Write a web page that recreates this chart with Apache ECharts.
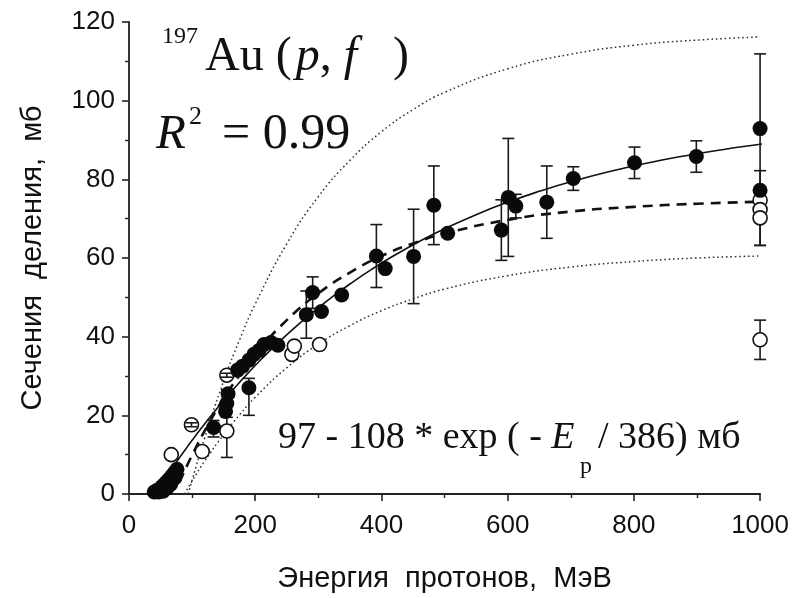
<!DOCTYPE html>
<html>
<head>
<meta charset="utf-8">
<script src="https://cdn.jsdelivr.net/npm/echarts@6/dist/echarts.min.js"></script>
<style>
  html, body { margin: 0; padding: 0; background: #fff; }
  #chart { width: 792px; height: 598px; }
</style>
</head>
<body>
<div id="chart"></div>
<script>
// 197Au(p,f): fission cross-section vs proton energy

// Filled points (MeV, mb) with lower / upper error
const filledEnergy = [40, 44, 47, 50, 52, 54, 55, 58, 60, 61, 64, 66, 67, 70, 72, 73, 76,
  134, 153, 155, 157,
  172, 180, 190, 190, 198, 206, 214, 225, 236,
  281, 291, 305, 337,
  392, 406, 451, 483, 505,
  590, 601, 613, 662, 704, 801, 899, 1000, 1000];
const filledXS = [0.5, 0.9, 0.5, 1.3, 1.8, 0.7, 2.3, 2.8, 1.5, 3.3, 3.8, 2.5, 4.4, 5.0, 4.0, 5.6, 6.3,
  16.9, 21, 23, 25.5,
  31.5, 32.5, 27, 34, 35.5, 36.5, 38, 38.5, 37.8,
  45.6, 51.2, 46.4, 50.6,
  60.5, 57.3, 60.4, 73.4, 66.3,
  67.1, 75.4, 73.2, 74.2, 80.2, 84.2, 85.8, 92.9, 77.2];
const filledErrLow = [0, 0, 0, 0, 0, 0, 0, 0, 0, 0, 0, 0, 0, 0, 0, 0, 0,
  2.4, 0, 3.5, 0,
  0, 0, 7, 0, 0, 0, 0, 0, 0,
  6, 4, 0, 0,
  8, 0, 12, 10, 1,
  7.7, 15, 3, 9.2, 3, 4, 4, 19, 14];
const filledErrHigh = [0, 0, 0, 0, 0, 0, 0, 0, 0, 0, 0, 0, 0, 0, 0, 0, 0,
  1.8, 0, 3.5, 0,
  0, 0, 2.4, 0, 0, 0, 0, 0, 0,
  6, 4, 0, 0,
  8, 0, 12, 10, 1,
  7.7, 15, 3, 9.2, 3, 4, 4, 19, 5];

// Open points (MeV, mb) with errors
const openEnergy = [67, 99, 116, 155, 155, 258, 262, 302, 1000, 1000, 1000, 1000];
const openXS = [10, 17.6, 10.8, 30.2, 16, 35.5, 37.6, 38, 74.7, 72.3, 70.2, 39.2];
const openErrLow = [0, 0.5, 0, 0.5, 6.7, 0, 0, 0, 0, 0, 7, 5];
const openErrHigh = [0, 0.5, 0, 0.5, 6.7, 0, 0, 0, 0, 0, 7, 5];

// Fit curve parameters: 97 - 108 * exp(-E / 386) mb
const fitA = 97, fitB = 108, fitTau = 386;
const fitEnergy = [41, 45, 50, 60, 70, 80, 90, 100, 115, 130, 150, 170, 190, 210, 235, 260,
  290, 320, 350, 385, 420, 460, 500, 550, 600, 650, 700, 760, 820, 880, 940, 1000, 1008];

// Dashed curve
const dashedEnergy = [80, 100, 125, 150, 175, 200, 250, 300, 350, 400, 450, 500, 600, 700, 800, 900, 1000];
const dashedXS = [3.0, 9.9, 17.5, 24.3, 30.2, 35.5, 44.2, 51.0, 56.3, 60.5, 63.7, 66.2, 69.7, 71.8, 73.0, 73.8, 74.3];

// Dotted band, upper and lower
const upperEnergy = [94, 100, 120, 150, 175, 200, 250, 300, 350, 400, 450, 500, 600, 700, 800, 900, 1000];
const upperXS = [0, 3.5, 14.3, 28.7, 39.1, 48.3, 63.6, 75.6, 84.8, 92.1, 97.7, 102.1, 108.1, 111.8, 114.1, 115.4, 116.2];
const lowerEnergy = [88, 100, 120, 150, 175, 200, 250, 300, 350, 400, 450, 500, 600, 700, 800, 900, 1000];
const lowerXS = [0, 3.3, 8.4, 15.1, 20.1, 24.6, 32.1, 38.1, 42.8, 46.6, 49.6, 52.1, 55.5, 57.7, 59.1, 60.0, 60.5];

// Axis ranges / ticks
const xMin = 0, xMax = 1000, xStep = 200;
const yMin = 0, yMax = 120, yStep = 20;

const INK = '#111';
const SERIF = '"Liberation Serif", "Times New Roman", serif';
const SANS = '"Liberation Sans", Arial, sans-serif';

const pairs = (xs, ys) => xs.map((x, i) => [x, ys[i]]);
const fitXS = fitEnergy.map(e => fitA - fitB * Math.exp(-e / fitTau));

function barRows(xs, ys, lo, hi) {
  return xs.map((x, i) => [x, ys[i] - lo[i], ys[i] + hi[i], lo[i] + hi[i]])
           .filter(r => r[3] > 0);
}
const allBars = barRows(filledEnergy, filledXS, filledErrLow, filledErrHigh)
  .concat(barRows(openEnergy, openXS, openErrLow, openErrHigh));
const longBars = allBars.filter(r => r[3] >= 2);
const shortBars = allBars.filter(r => r[3] < 2);

function errorBars(rows, z) {
  return {
    type: 'custom',
    z: z,
    silent: true,
    encode: { x: 0, y: [1, 2] },
    data: rows,
    renderItem(params, api) {
      const x = api.value(0);
      const a = api.coord([x, api.value(1)]);
      const b = api.coord([x, api.value(2)]);
      const hw = 6;
      const st = { stroke: '#1a1a1a', lineWidth: 1.6 };
      return {
        type: 'group',
        children: [
          { type: 'line', shape: { x1: a[0], y1: a[1], x2: b[0], y2: b[1] }, style: st },
          { type: 'line', shape: { x1: a[0] - hw, y1: a[1], x2: a[0] + hw, y2: a[1] }, style: st },
          { type: 'line', shape: { x1: b[0] - hw, y1: b[1], x2: b[0] + hw, y2: b[1] }, style: st }
        ]
      };
    }
  };
}

const chart = echarts.init(document.getElementById('chart'), null, { renderer: 'canvas' });

chart.setOption({
  animation: false,
  backgroundColor: '#fff',
  grid: { left: 129, right: 31, top: 22, bottom: 103 },
  xAxis: {
    type: 'value', min: xMin, max: xMax, interval: xStep,
    name: 'Энергия  протонов,  МэВ',
    nameLocation: 'middle', nameGap: 70,
    nameTextStyle: { fontFamily: SANS, fontSize: 29, color: INK },
    axisLine: { show: true, lineStyle: { color: '#222', width: 1.8 } },
    axisTick: { show: true, inside: false, length: 7, lineStyle: { color: '#222', width: 1.6 } },
    minorTick: { show: true, splitNumber: 2, length: 4, lineStyle: { color: '#222', width: 1.4 } },
    axisLabel: { fontFamily: SANS, fontSize: 26, color: INK, margin: 19, formatter: v => String(v) },
    splitLine: { show: false }
  },
  yAxis: {
    type: 'value', min: yMin, max: yMax, interval: yStep,
    name: 'Сечения  деления,  мб',
    nameLocation: 'middle', nameGap: 82, nameRotate: 90,
    nameTextStyle: { fontFamily: SANS, fontSize: 29, color: INK },
    axisLine: { show: true, lineStyle: { color: '#222', width: 1.8 } },
    axisTick: { show: true, inside: false, length: 7, lineStyle: { color: '#222', width: 1.6 } },
    minorTick: { show: true, splitNumber: 2, length: 4, lineStyle: { color: '#222', width: 1.4 } },
    axisLabel: { fontFamily: SANS, fontSize: 26, color: INK, margin: 14, formatter: v => String(v) },
    splitLine: { show: false }
  },
  series: [
    {
      type: 'line', data: pairs(upperEnergy, upperXS), smooth: true, symbol: 'none', z: 1,
      lineStyle: { color: '#333', width: 1.5, type: [1.6, 2.8] }
    },
    {
      type: 'line', data: pairs(lowerEnergy, lowerXS), smooth: true, symbol: 'none', z: 1,
      lineStyle: { color: '#333', width: 1.5, type: [1.6, 2.8] }
    },
    {
      type: 'line', data: pairs(dashedEnergy, dashedXS), smooth: true, symbol: 'none', z: 1,
      lineStyle: { color: '#111', width: 2.6, type: [10, 7] }
    },
    {
      type: 'line', data: pairs(fitEnergy, fitXS), smooth: true, symbol: 'none', z: 1,
      lineStyle: { color: '#111', width: 1.6, type: 'solid' }
    },
    errorBars(longBars, 2),
    {
      type: 'scatter', data: pairs(openEnergy, openXS), symbol: 'circle', symbolSize: 14, z: 3,
      itemStyle: { color: '#fff', borderColor: '#111', borderWidth: 1.6, opacity: 1 }
    },
    {
      type: 'scatter', data: pairs(filledEnergy, filledXS), symbol: 'circle', symbolSize: 15, z: 4,
      itemStyle: { color: '#0a0a0a', opacity: 1 }
    },
    errorBars(shortBars, 5)
  ],
  graphic: [
    {
      type: 'text', left: 162, top: 25, z: 10,
      style: { text: '197', font: '24px ' + SERIF, fill: INK }
    },
    {
      type: 'text', left: 205, top: 33, z: 10,
      style: {
        text: '{n|Au (\u200A}{i|p}{n|, }{i|f}{n|   )}',
        rich: {
          n: { font: '48px ' + SERIF, fill: INK },
          i: { font: 'italic 48px ' + SERIF, fill: INK }
        }
      }
    },
    {
      type: 'text', left: 156, top: 111, z: 10,
      style: { text: 'R', font: 'italic 49px ' + SERIF, fill: INK }
    },
    {
      type: 'text', left: 189, top: 104, z: 10,
      style: { text: '2', font: '26px ' + SERIF, fill: INK }
    },
    {
      type: 'text', left: 222, top: 110, z: 10,
      style: { text: '= 0.99', font: '50px ' + SERIF, fill: INK }
    },
    {
      type: 'text', left: 278, top: 419, z: 10,
      style: {
        text: '{n|97 - 108 * exp ( - }{i|E}',
        rich: {
          n: { font: '38px ' + SERIF, fill: INK },
          i: { font: 'italic 38px ' + SERIF, fill: INK }
        }
      }
    },
    {
      type: 'text', left: 580, top: 455, z: 10,
      style: { text: 'p', font: '24px ' + SERIF, fill: INK }
    },
    {
      type: 'text', left: 598, top: 419, z: 10,
      style: { text: '/ 386) мб', font: '38px ' + SERIF, fill: INK }
    }
  ]
});
</script>
</body>
</html>
